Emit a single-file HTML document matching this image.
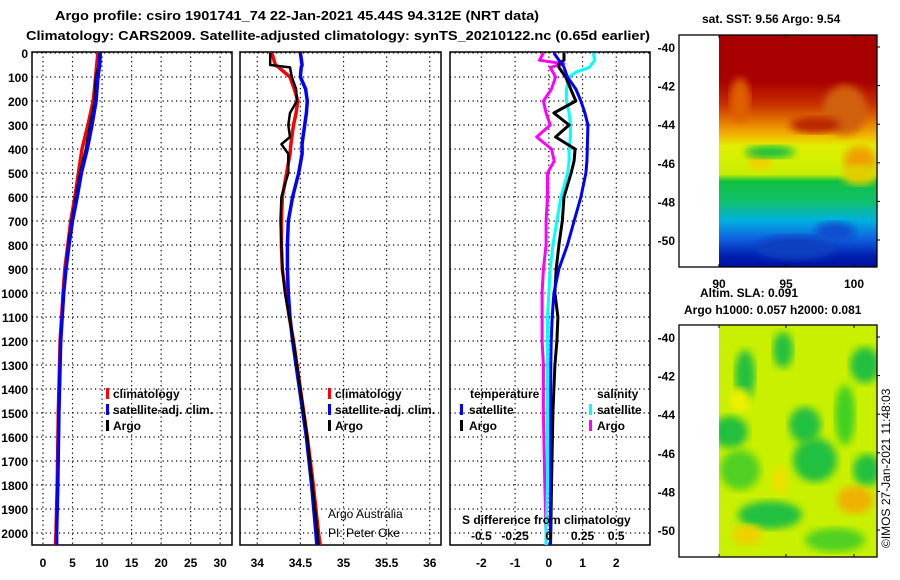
<!DOCTYPE html>
<html><head><meta charset="utf-8"><style>
body{margin:0;background:#fff;}
svg{display:block;font-family:"Liberation Sans",sans-serif;}
.t{font-size:13px;font-weight:bold;}
.tk{font-size:12px;font-weight:bold;}
.lg{font-size:12px;font-weight:bold;}
</style></head><body>
<svg id="c" width="900" height="580" viewBox="0 0 900 580">
<text class="t" x="55" y="20" textLength="484" lengthAdjust="spacingAndGlyphs">Argo profile: csiro 1901741_74 22-Jan-2021 45.44S 94.312E (NRT data)</text>
<text class="t" x="26" y="40" textLength="624" lengthAdjust="spacingAndGlyphs">Climatology: CARS2009. Satellite-adjusted climatology: synTS_20210122.nc (0.65d earlier)</text>
<g id="panels"></g>
<g id="maps"></g>
</svg>
<script>
// ---------- data ----------
const depthTicks=[0,100,200,300,400,500,600,700,800,900,1000,1100,1200,1300,1400,1500,1600,1700,1800,1900,2000];
const tTicks=[0,5,10,15,20,25,30];
const sTicks=[34,34.5,35,35.5,36];
const dTicks=[-2,-1,0,1,2];
const sdTicks=[-0.5,-0.25,0,0.25,0.5];
// temperature profiles
const tDepth=[0,50,100,200,300,400,500,600,700,800,900,1000,1200,1500,1800,2000,2050];
const tClim=[9.3,9.1,8.9,8.5,7.6,6.6,6.0,5.4,4.7,4.2,3.7,3.4,2.9,2.6,2.4,2.2,2.1];
const tSat=[9.7,9.6,9.3,9.0,8.3,7.5,6.5,5.8,5.0,4.4,3.9,3.5,3.0,2.7,2.5,2.3,2.3];
const tArgo=[9.6,9.5,9.0,8.8,8.0,7.3,6.3,5.6,4.9,4.3,3.9,3.5,3.0,2.7,2.5,2.3,2.3];
// salinity profiles
const sDepth=[0,50,60,100,150,200,250,300,350,380,420,500,600,700,800,900,1000,1100,1200,1400,1600,1800,2000,2050];
const sClim=[34.17,34.21,34.25,34.38,34.43,34.47,34.45,34.42,34.40,34.39,34.38,34.34,34.29,34.28,34.28,34.29,34.33,34.37,34.42,34.50,34.58,34.65,34.71,34.73];
const sSat=[34.50,34.52,34.51,34.50,34.56,34.58,34.57,34.55,34.53,34.52,34.52,34.48,34.41,34.36,34.35,34.35,34.36,34.38,34.41,34.49,34.57,34.63,34.68,34.69];
const sArgo=[34.15,34.15,34.38,34.40,34.45,34.46,34.38,34.36,34.38,34.28,34.36,34.36,34.28,34.27,34.28,34.29,34.32,34.37,34.42,34.50,34.58,34.64,34.70,34.71];
// differences from climatology
const dDepth=[0,30,45,60,80,100,150,200,250,300,350,400,450,500,600,700,800,900,1000,1100,1200,1300,1500,1800,2000,2050];
const dTSat=[0.15,0.3,0.4,0.45,0.5,0.55,0.8,0.95,1.07,1.16,1.15,1.14,1.13,1.1,0.95,0.75,0.55,0.3,0.15,0.1,0.07,0.06,0.05,0.05,0.05,0.05];
const dTArgo=[0.45,0.45,0.3,0.3,0.4,0.5,0.65,0.8,0.15,0.6,0.2,0.78,0.75,0.66,0.45,0.4,0.3,0.22,0.18,0.27,0.24,0.18,0.12,0.08,0.06,0.05];
const dSSat=[0.33,0.34,0.32,0.30,0.2,0.15,0.13,0.13,0.15,0.16,0.16,0.15,0.15,0.14,0.09,0.06,0.03,0.01,0.0,-0.01,-0.01,-0.01,-0.01,-0.01,-0.02,-0.02];
const dSArgo=[-0.04,-0.07,0.11,0.01,0.03,0.05,0.02,-0.04,-0.02,0.01,-0.09,0.02,0.04,-0.01,-0.01,-0.02,-0.02,-0.04,-0.05,-0.05,-0.05,-0.04,-0.04,-0.03,-0.02,-0.02];

// ---------- helpers ----------
const NS="http://www.w3.org/2000/svg";
const P=document.getElementById('panels');
function mk(tag,at,parent){const e=document.createElementNS(NS,tag);for(const k in at)e.setAttribute(k,at[k]);(parent||P).appendChild(e);return e;}
const Y0=53,YPX=0.24; // depth scale
const yD=d=>Y0+d*YPX;
function panel(name,x0,x1,vmin,vmax,ticks,fmt){
  const sx=v=>x0+(v-vmin)/(vmax-vmin)*(x1-x0);
  const g=mk('g',{});
  
  
  depthTicks.forEach(d=>{const l=mk('line',{x1:x0,x2:x1,y1:yD(d),y2:yD(d),stroke:'#000','stroke-width':1.2,'stroke-dasharray':'1.2 3.3'},g);
    
    });
  ticks.forEach(v=>{const l=mk('line',{x1:sx(v),x2:sx(v),y1:52,y2:545,stroke:'#000','stroke-width':1.2,'stroke-dasharray':'1.2 3.3'},g);
    
    
    const t=mk('text',{x:sx(v),y:567,'text-anchor':'middle',class:'tk'},g);t.textContent=fmt?fmt(v):v;
    
    });
  const r=mk('rect',{x:x0,y:52,width:x1-x0,height:493,fill:'none',stroke:'#000','stroke-width':1.5},g);
  
  
  return {g,sx};
}
function line(pn,depths,vals,color,name,w,scale){
  const pts=depths.map((d,i)=>pn.sx(vals[i]*(scale||1)).toFixed(1)+','+yD(d).toFixed(1)).join(' ');
  const l=mk('polyline',{points:pts,fill:'none',stroke:color,'stroke-width':w||3,'stroke-linejoin':'round'},pn.g);
  
  
}
function txt(s,x,y,cls,name,g,extra){const t=mk('text',Object.assign({x:x,y:y,class:cls},extra||{}),g);t.textContent=s;
  
  return t;}
function mark(x,y,c,g){const r=mk('rect',{x:x,y:y-10,width:3,height:11,fill:c},g);
  
  }

// depth axis labels
depthTicks.forEach(d=>{txt(String(d),28,yD(d)+5,'tk','y-tick-label',P,{'text-anchor':'end'});});

// panel 1 temperature
const p1=panel('temperature-panel',32,232,-1.86,32,tTicks);
line(p1,tDepth,tClim,'#f00','line-temp-climatology',3.5);
line(p1,tDepth,tArgo,'#000','line-temp-argo',3);
line(p1,tDepth,tSat,'#00f','line-temp-satellite',3.5);
mark(106,398,'#f00',p1.g);txt('climatology',113,398,'lg','legend-climatology',p1.g);
mark(106,414,'#00f',p1.g);txt('satellite-adj. clim.',113,414,'lg','legend-satellite',p1.g);
mark(106,430,'#000',p1.g);txt('Argo',113,430,'lg','legend-argo',p1.g);

// panel 2 salinity
const p2=panel('salinity-panel',240,441,33.8,36.13,sTicks);
line(p2,sDepth,sClim,'#f00','line-sal-climatology',3.5);
line(p2,sDepth,sSat,'#00f','line-sal-satellite',3.5);
line(p2,sDepth,sArgo,'#000','line-sal-argo',2.5);
mark(328,398,'#f00',p2.g);txt('climatology',335,398,'lg','legend-climatology',p2.g);
mark(328,414,'#00f',p2.g);txt('satellite-adj. clim.',335,414,'lg','legend-satellite',p2.g);
mark(328,430,'#000',p2.g);txt('Argo',335,430,'lg','legend-argo',p2.g);
txt('Argo Australia',328,518,'','credit-argo-australia',p2.g,{'font-size':'12px'});
txt('PI: Peter Oke',328,537,'','credit-pi',p2.g,{'font-size':'12px'});

// panel 3 differences
const p3=panel('difference-panel',450,650,-2.93,3.0,dTicks);
line(p3,dDepth,dSArgo,'#f0f','line-sdiff-argo',3,4);
line(p3,dDepth,dSSat,'#0ff','line-sdiff-satellite',3,4);
line(p3,dDepth,dTArgo,'#000','line-tdiff-argo',3);
line(p3,dDepth,dTSat,'#00f','line-tdiff-satellite',3);
txt('temperature',470,398,'lg','legend-temperature-header',p3.g);
txt('salinity',597,398,'lg','legend-salinity-header',p3.g);
mark(460,414,'#00f',p3.g);txt('satellite',469,414,'lg','legend-temp-satellite',p3.g);
mark(460,430,'#000',p3.g);txt('Argo',469,430,'lg','legend-temp-argo',p3.g);
mark(589,414,'#0ff',p3.g);txt('satellite',597,414,'lg','legend-sal-satellite',p3.g);
mark(589,430,'#f0f',p3.g);txt('Argo',597,430,'lg','legend-sal-argo',p3.g);
txt('S difference from climatology',462,524,'lg','salinity-axis-title',p3.g);
sdTicks.forEach(v=>txt(String(v),p3.sx(v*4),540,'tk','salinity-tick-label',p3.g,{'text-anchor':'middle'}));

// ---------- maps ----------
const M=document.getElementById('maps');
function mapFrame(name){
  const g=mk('g',{},M);
  
  
  return g;
}
const g1=mapFrame('sst-map');
const defs=mk('defs',{},M);
defs.innerHTML='<linearGradient id="sstg" x1="0" y1="0" x2="0" y2="1">'+
'<stop offset="0" stop-color="#a80000"/><stop offset="0.2" stop-color="#a80000"/><stop offset="0.3" stop-color="#c83000"/>'+
'<stop offset="0.38" stop-color="#e88000"/><stop offset="0.44" stop-color="#f0c000"/><stop offset="0.48" stop-color="#e0f000"/><stop offset="0.6" stop-color="#c8ee00"/>'+
'<stop offset="0.63" stop-color="#10c040"/><stop offset="0.72" stop-color="#10c070"/><stop offset="0.8" stop-color="#00b0e0"/>'+
'<stop offset="0.88" stop-color="#1060e0"/><stop offset="0.95" stop-color="#0020b0"/><stop offset="1" stop-color="#0010a0"/></linearGradient>'+
'<filter id="bl"><feGaussianBlur stdDeviation="4"/></filter><clipPath id="c1"><rect x="719" y="35" width="158" height="232"/></clipPath>'+
'<clipPath id="c2"><rect x="719" y="325" width="158" height="232"/></clipPath>';
mk('rect',{x:719,y:35,width:158,height:232,fill:'url(#sstg)'},g1);
const sstBlobs=[[740,100,10,22,'#e06000'],[845,110,22,25,'#d06010'],[860,160,16,14,'#f0a000'],[760,160,12,10,'#f0d000'],[815,125,25,8,'#b82000'],[860,175,18,10,'#e0d000'],[770,152,25,6,'#10c040'],[795,248,40,12,'#1040c0'],[835,232,20,10,'#1050d0']];
const gb=mk('g',{'clip-path':'url(#c1)'},g1);
sstBlobs.forEach(b=>mk('ellipse',{cx:b[0],cy:b[1],rx:b[2],ry:b[3],fill:b[4],filter:'url(#bl)'},gb));
const g2=mapFrame('sla-map');
mk('rect',{x:719,y:325,width:158,height:232,fill:'#c8f000'},g2);
const gb2=mk('g',{'clip-path':'url(#c2)'},g2);
const slaBlobs=[[745,375,10,25,'#20c040'],[783,350,10,18,'#20c040'],[865,365,15,18,'#20c040'],[730,432,18,16,'#20c040'],[805,425,16,18,'#20c040'],[845,415,10,30,'#40d020'],[815,460,22,22,'#20c040'],[867,470,14,16,'#20c040'],[770,515,32,14,'#20c040'],[740,470,20,20,'#50d020'],[747,535,15,10,'#f0d000'],[855,500,18,14,'#f0b000'],[780,480,8,14,'#f0e000'],[740,400,10,12,'#f0f000'],[835,540,30,12,'#50d020']];
slaBlobs.forEach(b=>mk('ellipse',{cx:b[0],cy:b[1],rx:b[2],ry:b[3],fill:b[4],filter:'url(#bl)'},gb2));
[[35,47,'sst'],[325,337,'sla']].forEach(([top,lat40,nm])=>{
  const f=mk('rect',{x:679,y:top,width:198,height:232,fill:'none',stroke:'#000','stroke-width':1.3},M);
  
  
  [-40,-42,-44,-46,-48,-50].forEach((lat,i)=>{const y=lat40+i*19.3*2;
    mk('line',{x1:877,x2:880,y1:y,y2:y,stroke:'#000'},M);
    txt(String(lat),675,y+5,'tk',nm+'-lat-label',M,{'text-anchor':'end'});});
  [719,786,854].forEach(x=>{mk('line',{x1:x,x2:x,y1:top,y2:top+3,stroke:'#000'},M);mk('line',{x1:x,x2:x,y1:top+232,y2:top+229,stroke:'#000'},M);});
});
txt('sat. SST: 9.56 Argo: 9.54',702,23,'tk','sst-map-title',M);
[['90',719],['95',786],['100',854]].forEach(([s,x])=>txt(s,x,288,'tk','lon-label',M,{'text-anchor':'middle'}));
txt('Altim. SLA: 0.091',700,297,'tk','sla-title',M);
txt('Argo h1000: 0.057 h2000: 0.081',684,314,'tk','argo-height-title',M);
txt('©IMOS 27-Jan-2021 11:48:03',890,548,'','imos-timestamp',M,{'font-size':'12px',transform:'rotate(-90 890 548)'});
</script>
</body></html>
